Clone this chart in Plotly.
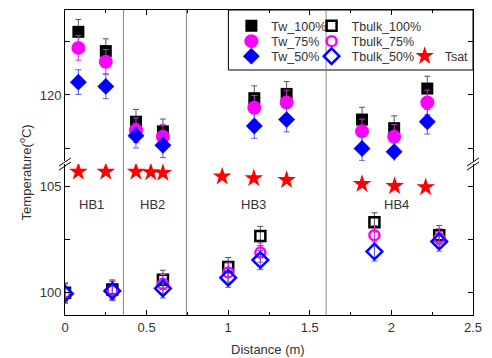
import plotly.graph_objects as go

# ---- data ----
x_tw = [0.082, 0.25, 0.435, 0.60, 1.16, 1.358, 1.82, 2.017, 2.22]
tw_100 = [125.9, 124.1, 117.5, 116.6, 119.7, 120.1, 117.7, 116.9, 120.6]
tw_75 = [124.4, 123.1, 116.7, 116.1, 118.8, 119.3, 116.6, 116.1, 119.3]
tw_50 = [121.2, 120.8, 116.2, 115.3, 117.1, 117.7, 115.0, 114.7, 117.5]
tw_err = 1.15

x_tb = [0.0, 0.29, 0.60, 1.0, 1.197, 1.896, 2.293]
tb_100 = [100.0, 100.15, 100.6, 101.2, 102.66, 103.3, 102.7]
tb_75 = [100.0, 100.1, 100.4, 100.95, 101.88, 102.7, 102.55]
tb_50 = [99.95, 100.08, 100.2, 100.7, 101.53, 101.93, 102.4]
tb_err = 0.45

x_sat = [0.082, 0.25, 0.435, 0.526, 0.60, 0.963, 1.157, 1.358, 1.82, 2.02, 2.21]
tsat = [105.67, 105.67, 105.67, 105.65, 105.62, 105.45, 105.37, 105.29, 105.1, 105.0, 104.95]

dividers = [0.358, 0.744, 1.6]
hb_labels = ["HB1", "HB2", "HB3", "HB4"]
hb_x = [0.16, 0.535, 1.155, 2.03]
hb_y = 104.12

FONT = "Liberation Sans, Arial, sans-serif"
TXT = "#333333"

# pixel -> paper helpers for layout decorations
L, R, T, B = 65, 15, 10, 43
W, H = 492, 358
PW, PH = W - L - R, H - T - B
def px(xp):
    return (xp - L) / PW
def py(yp):
    return (H - B - yp) / PH

fig = go.Figure()

def eb(vals, color):
    return dict(type="constant", value=vals, color=color, thickness=1, width=3)

# Tw (upper segment)
fig.add_trace(go.Scatter(x=x_tw, y=tw_100, mode="markers", name="Tw_100%",
    xaxis="x2", yaxis="y2", legend="legend",
    marker=dict(symbol="square", size=12, color="black"),
    error_y=eb(tw_err, "#555555")))
fig.add_trace(go.Scatter(x=x_tw, y=tw_75, mode="markers", name="Tw_75%",
    xaxis="x2", yaxis="y2", legend="legend2",
    marker=dict(symbol="circle", size=14, color="#ff00ff"),
    error_y=eb(tw_err, "#cc33cc")))
fig.add_trace(go.Scatter(x=x_tw, y=tw_50, mode="markers", name="Tw_50%",
    xaxis="x2", yaxis="y2", legend="legend3",
    marker=dict(symbol="diamond", size=13, color="#0000ff"),
    error_y=eb(tw_err, "#5555ee")))

# Tbulk (lower segment)
fig.add_trace(go.Scatter(x=x_tb, y=tb_100, mode="markers", name="Tbulk_100%",
    legend="legend4",
    marker=dict(symbol="square-open", size=10, color="black", line=dict(width=2.5)),
    error_y=eb(tb_err, "#555555")))
fig.add_trace(go.Scatter(x=x_tb, y=tb_75, mode="markers", name="Tbulk_75%",
    legend="legend5",
    marker=dict(symbol="circle-open", size=10, color="#ff00ff", line=dict(width=2.5)),
    error_y=eb(tb_err, "#cc33cc")))
fig.add_trace(go.Scatter(x=x_tb, y=tb_50, mode="markers", name="Tbulk_50%",
    legend="legend6",
    marker=dict(symbol="diamond-open", size=12, color="#0000ff", line=dict(width=2.5)),
    error_y=eb(tb_err, "#5555ee")))

fig.add_trace(go.Scatter(x=x_sat, y=tsat, mode="markers", name="Tsat",
    legend="legend7",
    marker=dict(symbol="star", size=14, color="#ff0000", line=dict(width=0))))

fig.update_traces(showlegend=True)

shapes = []
# legend box
shapes.append(dict(type="rect", xref="paper", yref="paper",
    x0=px(230), x1=1.0, y0=py(70), y1=1.0,
    line=dict(color="black", width=1), fillcolor="white", layer="below"))
# dividers
for d in dividers:
    shapes.append(dict(type="line", xref="x", yref="paper", x0=d, x1=d, y0=0, y1=1,
        line=dict(color="#888888", width=1), layer="below"))
# break marks
for xc in (65, 477):
    for dy in (0, 4):
        shapes.append(dict(type="line", xref="paper", yref="paper",
            x0=px(xc - 6), y0=py(166 + dy), x1=px(xc + 6), y1=py(158 + dy),
            line=dict(color="black", width=1)))

annotations = []
for lab, hx in zip(hb_labels, hb_x):
    annotations.append(dict(x=hx, y=hb_y, xref="x", yref="y", text=lab,
        showarrow=False, xanchor="center", yanchor="middle",
        font=dict(size=13, color=TXT, family=FONT)))
annotations.append(dict(x=px(25), y=py(172), xref="paper", yref="paper",
    text="Temperature(<sup>o</sup>C)", textangle=-90, showarrow=False,
    xanchor="center", yanchor="middle",
    font=dict(size=13, color=TXT, family=FONT)))
annotations.append(dict(x=px(270), y=py(349), xref="paper", yref="paper",
    text="Distance (m)", showarrow=False, xanchor="center", yanchor="middle",
    font=dict(size=13, color=TXT, family=FONT)))

axis_common = dict(showline=True, linecolor="black", linewidth=1, ticks="inside",
    tickcolor="black", ticklen=5, showgrid=False, zeroline=False,
    tickfont=dict(size=13, color=TXT, family=FONT))

lower_top = py(164)
upper_bot = py(161)

leg_common = dict(bgcolor="rgba(0,0,0,0)", borderwidth=0,
    font=dict(size=12.5, color=TXT, family=FONT), xanchor="left", yanchor="top",
    orientation="v", tracegroupgap=0, visible=True)

col_x = [233, 314, 408]
row_top = [11, 26.5, 41.5]

fig.update_layout(
    width=W, height=H,
    showlegend=True,
    margin=dict(l=L, r=R, t=T, b=B),
    paper_bgcolor="white", plot_bgcolor="white",
    font=dict(family=FONT, color=TXT),
    xaxis=dict(range=[0, 2.5], dtick=0.5, tick0=0, domain=[0, 1], anchor="y",
               minor=dict(dtick=0.25, ticks="inside", ticklen=3, tickcolor="black"),
               mirror=False, **axis_common),
    xaxis2=dict(range=[0, 2.5], dtick=0.5, tick0=0, matches="x", anchor="y2",
                side="top", showticklabels=False,
                minor=dict(dtick=0.25, ticks="inside", ticklen=3, tickcolor="black"),
                **axis_common),
    yaxis=dict(range=[98.95, 106.04], domain=[0, lower_top], dtick=5, tick0=0,
               minor=dict(dtick=2.5, ticks="inside", ticklen=5, tickcolor="black"),
               mirror="ticks", **axis_common),
    yaxis2=dict(range=[113.83, 127.94], domain=[upper_bot, 1], dtick=10, tick0=0,
                anchor="x2",
                minor=dict(dtick=5, ticks="inside", ticklen=5, tickcolor="black"),
                mirror="ticks", **axis_common),
    legend=dict(x=px(col_x[0]), y=py(row_top[0]), **leg_common),
    legend2=dict(x=px(col_x[0]), y=py(row_top[1]), **leg_common),
    legend3=dict(x=px(col_x[0]), y=py(row_top[2]), **leg_common),
    legend4=dict(x=px(col_x[1]), y=py(row_top[0]), **leg_common),
    legend5=dict(x=px(col_x[1]), y=py(row_top[1]), **leg_common),
    legend6=dict(x=px(col_x[1]), y=py(row_top[2]), **leg_common),
    legend7=dict(x=px(col_x[2]), y=py(row_top[2]), **leg_common),
    shapes=shapes,
    annotations=annotations,
)

fig.write_html("out.html")
